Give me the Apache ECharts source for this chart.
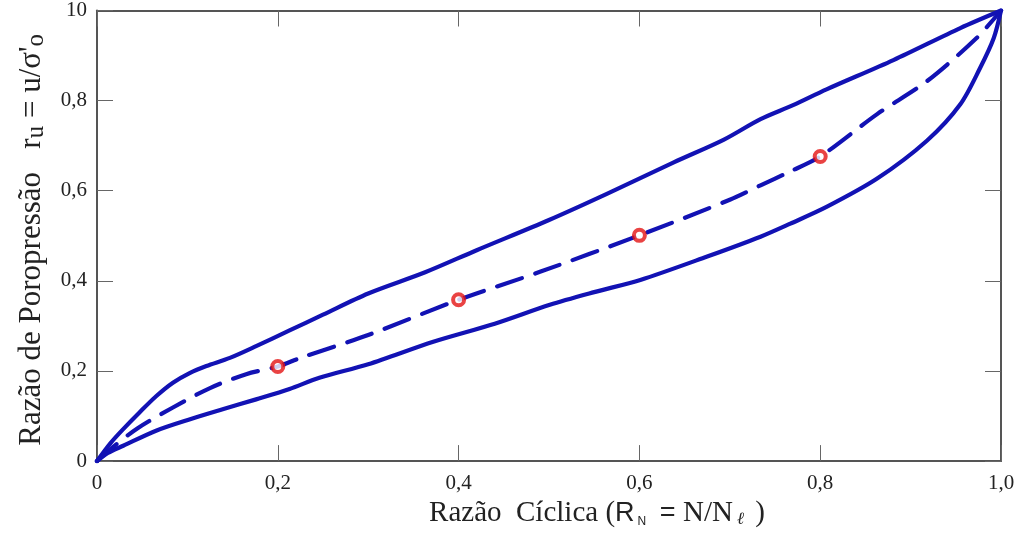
<!DOCTYPE html>
<html>
<head>
<meta charset="utf-8">
<script src="https://cdn.jsdelivr.net/npm/echarts@6/dist/echarts.min.js"></script>
<style>
  html, body { margin: 0; padding: 0; background: #fff; }
  #chart { width: 1019px; height: 533px; }
</style>
</head>
<body>
<div id="chart"></div>
<script>
// Tick labels as printed on each axis
const xTickLabels = ['0', '0,2', '0,4', '0,6', '0,8', '1,0'];
const yTickLabels = ['0', '0,2', '0,4', '0,6', '0,8', '10'];

// Upper envelope of the pore-pressure ratio band: [R_N, r_u]
const upperCurve = [
  [0, 0], [0.015, 0.04], [0.029, 0.071], [0.047, 0.108], [0.066, 0.145],
  [0.084, 0.174], [0.103, 0.196], [0.121, 0.211], [0.147, 0.229], [0.176, 0.255],
  [0.213, 0.290], [0.25, 0.325], [0.30, 0.372], [0.363, 0.419], [0.42, 0.468],
  [0.50, 0.535], [0.564, 0.593], [0.638, 0.663], [0.693, 0.713], [0.734, 0.759],
  [0.77, 0.790], [0.807, 0.825], [0.881, 0.890], [0.955, 0.961], [1, 1]
];

// Lower envelope of the band
const lowerCurve = [
  [0, 0], [0.012, 0.018], [0.029, 0.034], [0.066, 0.068], [0.103, 0.093],
  [0.139, 0.115], [0.176, 0.137], [0.213, 0.160], [0.246, 0.185], [0.30, 0.215],
  [0.372, 0.265], [0.44, 0.305], [0.501, 0.347], [0.55, 0.375], [0.601, 0.402],
  [0.675, 0.454], [0.734, 0.498], [0.767, 0.527], [0.807, 0.564], [0.863, 0.627],
  [0.918, 0.711], [0.955, 0.792], [0.977, 0.873], [0.992, 0.939], [1, 1]
];

// Mean trend (dashed)
const meanCurve = [
  [0, 0], [0.02, 0.035], [0.045, 0.073], [0.084, 0.119], [0.125, 0.162],
  [0.165, 0.193], [0.2, 0.21], [0.225, 0.229], [0.30, 0.28], [0.4, 0.358],
  [0.49, 0.420], [0.6, 0.501], [0.7, 0.58], [0.734, 0.612], [0.765, 0.641],
  [0.8, 0.676], [0.863, 0.770], [0.918, 0.843], [0.973, 0.939], [1, 1]
];

// Highlighted points on the mean trend
const markerX = [0.2, 0.4, 0.6, 0.8];
const markerY = [0.21, 0.358, 0.501, 0.676];

const BLUE = '#1212b4';
const FRAME = '#555555';
const SERIF = '"Liberation Serif", "Times New Roman", serif';
const SANS = '"Liberation Sans", Arial, sans-serif';

const tickFmt = (labels) => (v) => {
  const i = Math.round(v / 0.2);
  return labels[i] !== undefined ? labels[i] : '';
};

const frameAxis = {
  min: 0, max: 1, interval: 0.2,
  axisLine: { show: true, onZero: false, lineStyle: { color: FRAME, width: 2 } },
  axisTick: { show: true, inside: true, length: 16, lineStyle: { color: '#666', width: 1 } },
  splitLine: { show: false }
};

const curveLine = (data, extra) => ({
  type: 'line', data: data,
  smooth: 0.3, symbol: 'none',
  lineStyle: Object.assign({ color: BLUE, width: 4.2, cap: 'round', join: 'round' }, extra || {})
});

const chart = echarts.init(document.getElementById('chart'), null, { renderer: 'canvas' });

chart.setOption({
  animation: false,
  backgroundColor: '#ffffff',
  grid: { left: 97, right: 18, top: 9, bottom: 71, containLabel: false },
  xAxis: [
    Object.assign({}, frameAxis, {
      type: 'value', position: 'bottom',
      axisLabel: {
        formatter: tickFmt(xTickLabels), margin: 12,
        color: '#222', fontFamily: SERIF, fontSize: 21
      },
      name: '{t|Razão  Cíclica (}{s|R}{sub|N}{s| = }{t|N/N}{ell|ℓ}{t| )}',
      nameLocation: 'middle',
      nameGap: 37,
      nameTextStyle: {
        padding: [0, 0, 0, 96],
        rich: {
          t: { fontFamily: SERIF, fontSize: 29, color: '#222' },
          s: { fontFamily: SANS, fontSize: 27, color: '#222' },
          sub: { fontFamily: SANS, fontSize: 12, color: '#222', verticalAlign: 'bottom', padding: [14, 6, 0, 3] },
          ell: { fontFamily: SERIF, fontStyle: 'italic', fontSize: 17, color: '#222', verticalAlign: 'bottom', padding: [12, 4, 0, 4] }
        }
      }
    }),
    Object.assign({}, frameAxis, {
      type: 'value', position: 'top',
      axisLabel: { show: false }
    })
  ],
  yAxis: [
    Object.assign({}, frameAxis, {
      type: 'value', position: 'left',
      axisLabel: {
        formatter: tickFmt(yTickLabels), margin: 10,
        color: '#222', fontFamily: SERIF, fontSize: 21
      },
      name: '{t|Razão de Poropressão   r}{sub|u}{t| = u/σ\'}{sub|o}',
      nameLocation: 'middle',
      nameRotate: 90,
      nameGap: 48,
      nameTextStyle: {
        padding: [0, 8, 0, 0],
        rich: {
          t: { fontFamily: SERIF, fontSize: 31, color: '#222' },
          sub: { fontFamily: SERIF, fontSize: 25, color: '#222', verticalAlign: 'bottom', padding: [10, 0, 0, 0] }
        }
      }
    }),
    Object.assign({}, frameAxis, {
      type: 'value', position: 'right',
      axisLabel: { show: false }
    })
  ],
  series: [
    Object.assign({ name: 'upper' }, curveLine(upperCurve)),
    Object.assign({ name: 'lower' }, curveLine(lowerCurve)),
    Object.assign({ name: 'mean' }, curveLine(meanCurve, { type: [26, 14] })),
    {
      name: 'points', type: 'scatter', z: 5,
      data: markerX.map((x, i) => [x, markerY[i]]),
      symbol: 'circle', symbolSize: 11,
      itemStyle: { color: '#ffffff', borderColor: '#e41414', borderWidth: 4 }
    }
  ]
});
</script>
</body>
</html>
